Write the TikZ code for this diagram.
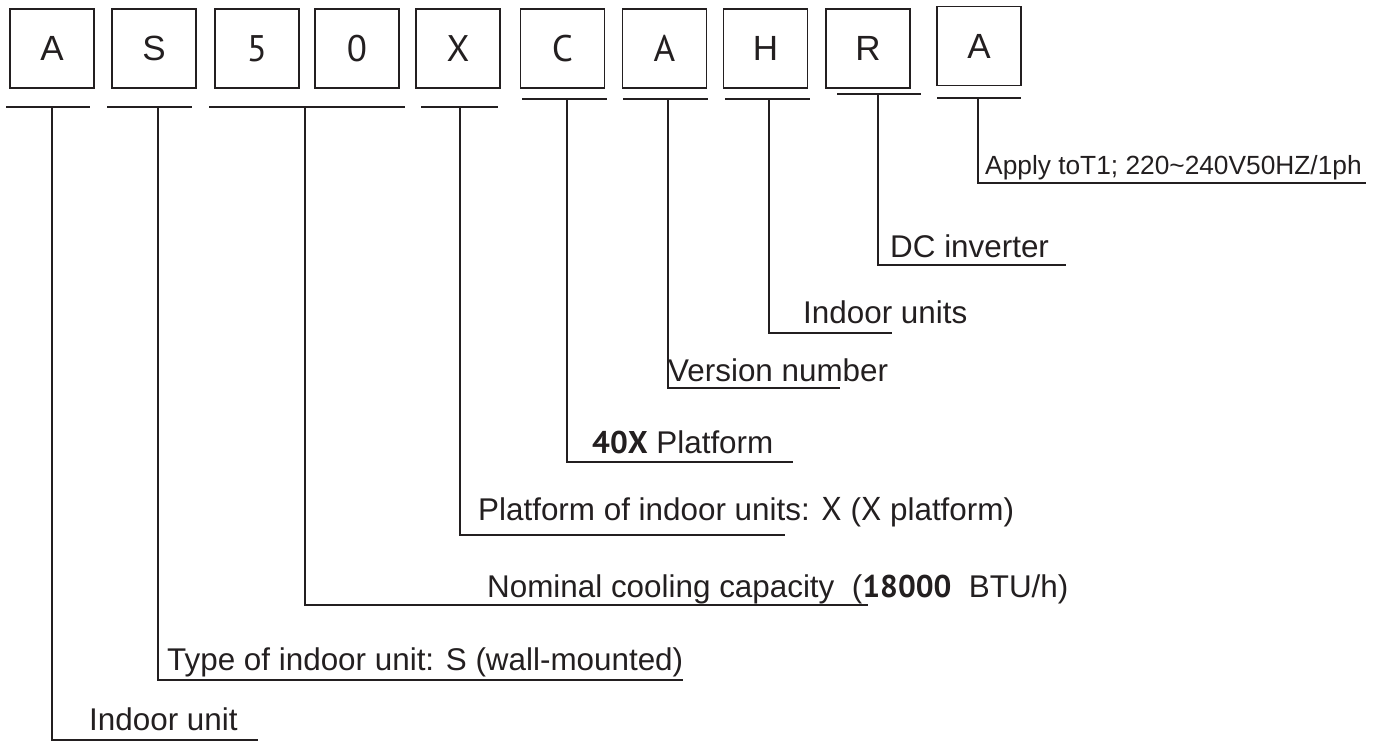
\documentclass[tikz,border=0pt]{standalone}
\usepackage{fontspec}
\setmainfont{Liberation Sans}
\newfontfamily\altfont{PT Sans}
\definecolor{ink}{HTML}{231F20}
\begin{document}
\begin{tikzpicture}[x=1pt,y=-1pt,
  box/.style={draw=ink, line width=1.7pt, minimum width=84pt, minimum height=79pt, inner sep=0pt,
    text=ink, font=\fontsize{35}{40}\selectfont},
  altbox/.style={box, font=\altfont\fontsize{37}{42}\selectfont},
  ul/.style={draw=ink, line width=1.7pt},
  lead/.style={draw=ink, line width=1.7pt},
  lbl/.style={anchor=base west, inner sep=0pt, text=ink, font=\fontsize{31.4}{36}\selectfont},
  smalllbl/.style={lbl, font=\fontsize{26.3}{30}\selectfont}]
\useasboundingbox (0,0) rectangle (1381,741);

% code boxes
\node[box]    (b1)  at (52,48.5)    {A};
\node[box]    (b2)  at (154,48.5)   {S};
\node[altbox] (b3)  at (257,48.5)   {5};
\node[altbox] (b4)  at (357,48.5)   {0};
\node[altbox] (b5)  at (458,48.5)   {X};
\node[altbox] (b6)  at (562.5,48.5) {C};
\node[altbox] (b7)  at (664.5,48.5) {A};
\node[box]    (b8)  at (765.5,48.5) {H};
\node[box]    (b9)  at (868,48.5)   {R};
\node[box]    (b10) at (979,46)     {A};

% underlines
\coordinate (u1l) at (6,107);    \coordinate (u1r) at (90,107);
\coordinate (u2l) at (107,107);  \coordinate (u2r) at (192,107);
\coordinate (u3l) at (209,107);  \coordinate (u3r) at (405,107);
\coordinate (u4l) at (421,107);  \coordinate (u4r) at (498,107);
\coordinate (u5l) at (522,99);   \coordinate (u5r) at (607,99);
\coordinate (u6l) at (623,99);   \coordinate (u6r) at (708,99);
\coordinate (u7l) at (725,99);   \coordinate (u7r) at (810,99);
\coordinate (u8l) at (837,94);   \coordinate (u8r) at (921,94);
\coordinate (u9l) at (937,98);   \coordinate (u9r) at (1021,98);
\foreach \i in {1,...,9} {\draw[ul] (u\i l) -- (u\i r);}

% taps, corners and ends of the leaders
\coordinate (t1) at (52,107);   \coordinate (c1) at (52,740);   \coordinate (e1) at (258,740);
\coordinate (t2) at (158,107);  \coordinate (c2) at (158,680);  \coordinate (e2) at (683,680);
\coordinate (t3) at (305,107);  \coordinate (c3) at (305,605);  \coordinate (e3) at (868,605);
\coordinate (t4) at (460,107);  \coordinate (c4) at (460,535);  \coordinate (e4) at (785,535);
\coordinate (t5) at (567,99);   \coordinate (c5) at (567,462);  \coordinate (e5) at (793,462);
\coordinate (t6) at (668,99);   \coordinate (c6) at (668,388);  \coordinate (e6) at (840,388);
\coordinate (t7) at (769,99);   \coordinate (c7) at (769,333);  \coordinate (e7) at (892,333);
\coordinate (t8) at (878,94);   \coordinate (c8) at (878,265);  \coordinate (e8) at (1066,265);
\coordinate (t9) at (978,98);   \coordinate (c9) at (978,183);  \coordinate (e9) at (1366,183);
\foreach \i in {1,...,9} {\draw[lead] (t\i) -- (c\i) -- (e\i);}

% labels
\node[lbl] (l1) at (89,730)  {Indoor unit};
\node[lbl] (l2) at (167,670) {Type of indoor unit: S (wall-mounted)};
\node[lbl] (l3) at (487,597) {Nominal cooling capacity\ \ ({\altfont\bfseries 18000}\ \ BTU/h)};
\node[lbl] (l4) at (478,520) {Platform of indoor units: {\altfont\fontsize{33}{36}\selectfont X} ({\altfont\fontsize{33}{36}\selectfont X} platform)};
\node[lbl] (l5) at (592,453) {{\altfont\bfseries 40X} Platform};
\node[lbl] (l6) at (668,381) {Version number};
\node[lbl] (l7) at (803,323) {Indoor units};
\node[lbl] (l8) at (890,257) {DC inverter};
\node[smalllbl] (l9) at (985,175) {Apply toT1; 220\textasciitilde 240V50HZ/1ph};
\end{tikzpicture}
\end{document}
